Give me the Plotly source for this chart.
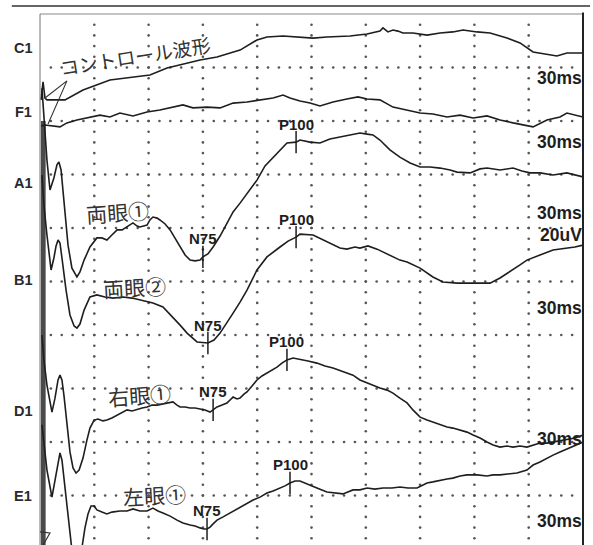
import numpy as np
import plotly.graph_objects as go

# ---------------- data (time in ms, amplitude in uV, 20 uV / division) ----------------
channels = ["C1", "F1", "A1", "B1", "D1", "E1"]

c1_t = [0.5, 1.4, 2.3, 3.2, 11.5, 19.8, 32.2, 42.8, 50.6, 58.5, 67.7, 73.7, 81.5, 92.1, 99.9, 104.5, 111.9,
        119.7, 125.7, 132.1, 142.7, 150.6, 156.5, 157.9, 160.2, 162.5, 164.8, 167.1, 171.7, 178.2, 184.2,
        190.1, 194.8, 201.2, 207.2, 215.0, 221.0, 227.0, 233.4, 238.0, 242.6, 245.4, 250.0]
c1_uv = [-32.1, -25.4, -31.4, -32.1, -32.1, -28.4, -24.7, -23.6, -22.8, -20.2, -18.3, -17.2, -16.1, -13.5,
         -9.7, -8.6, -8.2, -8.6, -9.0, -8.6, -8.2, -7.5, -6.4, -5.2, -6.7, -6.0, -6.4, -7.1, -7.1, -7.9,
         -7.1, -6.7, -6.0, -6.7, -7.1, -9.0, -10.8, -14.2, -15.0, -15.7, -14.6, -14.6, -14.6]

f1_t = [0.5, 2.3, 9.2, 12.4, 17.0, 23.0, 27.6, 32.2, 36.8, 42.8, 49.3, 55.2, 61.2, 65.8, 70.4, 76.9, 82.9,
        88.9, 95.3, 101.3, 107.3, 111.9, 115.1, 119.7, 124.3, 128.9, 134.9, 141.3, 146.4, 150.6, 156.5,
        162.5, 168.9, 175.0, 180.9, 187.4, 193.4, 199.4, 205.8, 211.8, 217.8, 224.2, 227.0, 233.4, 239.4,
        242.6, 247.2, 250.0]
f1_uv = [-41.9, -41.5, -42.2, -40.7, -39.6, -38.5, -37.8, -38.5, -37.0, -38.1, -36.6, -35.9, -34.8, -34.0,
         -35.1, -34.8, -35.1, -33.3, -32.9, -32.1, -31.4, -30.3, -31.4, -32.5, -33.3, -34.4, -32.9, -31.8,
         -31.0, -31.8, -32.1, -34.8, -35.9, -37.0, -37.4, -38.5, -37.8, -38.9, -38.1, -39.6, -40.7, -41.9,
         -42.2, -39.6, -38.5, -37.0, -38.1, -38.5]

a1_t = [0.9, 1.8, 3.2, 4.6, 6.4, 7.8, 8.7, 9.7, 10.6, 11.5, 12.9, 14.7, 17.0, 18.4, 20.3, 23.0, 26.2, 28.5,
        30.8, 33.1, 35.5, 37.8, 40.1, 42.8, 44.7, 46.0, 49.3, 50.6, 52.0, 53.9, 55.2, 57.6, 59.9, 62.2,
        64.5, 66.8, 69.1, 71.4, 73.7, 75.0, 77.3, 79.7, 82.9, 86.1, 88.9, 92.1, 95.8, 99.9, 103.6, 107.3,
        110.5, 113.7, 117.9, 119.7, 124.3, 128.9, 133.5, 138.1, 142.7, 147.3, 150.6, 153.3, 156.5, 161.1,
        165.7, 170.4, 175.0, 179.6, 184.2, 188.8, 192.0, 198.0, 202.6, 205.8, 211.8, 217.8, 221.9, 225.6,
        230.2, 236.2, 242.6, 250.0]
a1_uv = [-27.7, -39.6, -54.6, -65.8, -61.3, -56.4, -55.3, -58.3, -66.5, -75.1, -86.4, -95.0, -98.3, -96.4,
         -92.0, -87.1, -83.7, -83.7, -84.5, -82.6, -80.7, -80.7, -79.6, -78.1, -79.3, -79.6, -78.9, -77.0,
         -75.9, -76.3, -77.0, -78.5, -80.7, -83.7, -87.1, -90.1, -92.0, -92.3, -92.0, -90.8, -89.7, -87.1,
         -83.0, -78.1, -74.0, -70.7, -66.5, -62.1, -56.8, -53.5, -50.8, -48.2, -47.9, -47.1, -47.9, -48.2,
         -46.7, -46.0, -45.2, -44.5, -44.9, -45.2, -47.1, -50.8, -53.5, -55.7, -57.2, -57.2, -57.6, -58.3,
         -59.1, -59.4, -57.9, -57.6, -58.3, -57.6, -58.7, -59.4, -59.4, -60.2, -59.4, -60.9]

b1_t = [0.9, 1.8, 3.2, 5.1, 6.4, 7.4, 8.3, 9.2, 10.1, 11.0, 12.0, 13.8, 15.7, 17.0, 18.4, 20.3, 23.0, 26.2,
        29.9, 33.6, 38.2, 42.4, 46.0, 52.0, 56.6, 61.2, 64.5, 67.7, 72.3, 77.3, 80.1, 82.9, 86.1, 88.9,
        92.1, 95.3, 99.9, 104.5, 110.5, 114.2, 117.9, 119.7, 125.7, 130.3, 134.9, 138.1, 141.3, 145.0,
        147.3, 151.0, 155.2, 161.1, 165.7, 169.0, 175.0, 180.9, 185.5, 192.0, 199.4, 207.2, 211.8, 217.8,
        221.0, 224.2, 227.0, 230.2, 236.2, 242.6, 246.3, 250.0]
b1_uv = [-60.2, -71.4, -82.6, -95.7, -91.2, -86.7, -84.5, -85.6, -91.2, -97.6, -103.2, -112.5, -116.6,
         -117.4, -115.9, -110.7, -105.8, -105.0, -105.8, -106.2, -105.8, -106.2, -106.9, -108.0, -109.5,
         -113.3, -116.3, -119.3, -122.6, -123.0, -121.9, -119.3, -115.5, -111.8, -107.7, -103.2, -95.7,
         -90.8, -87.1, -84.9, -83.4, -82.3, -82.6, -84.5, -86.4, -87.5, -87.9, -87.1, -87.5, -86.7, -87.9,
         -90.1, -92.0, -92.7, -95.0, -98.3, -100.2, -100.6, -100.6, -100.6, -98.7, -95.7, -93.8, -92.0,
         -91.2, -90.1, -88.2, -87.5, -87.1, -86.4]

d1_t = [0.9, 1.8, 3.2, 5.5, 6.9, 8.3, 9.2, 10.1, 11.0, 12.4, 13.8, 15.2, 16.6, 18.0, 19.8, 21.6, 23.0, 24.9,
        26.7, 29.0, 30.8, 33.1, 35.5, 37.8, 40.1, 42.4, 44.7, 47.0, 49.3, 51.6, 53.9, 56.2, 58.5, 61.2,
        63.1, 64.5, 66.8, 69.1, 71.4, 73.7, 76.0, 78.3, 79.7, 81.5, 83.8, 86.1, 87.5, 88.9, 90.7, 92.1,
        93.9, 95.3, 97.6, 99.9, 102.2, 104.5, 106.8, 109.1, 111.4, 113.7, 116.5, 119.7, 123.4, 127.5,
        131.2, 134.9, 139.5, 144.1, 147.3, 150.6, 153.3, 156.5, 159.8, 162.5, 165.7, 169.0, 171.7, 175.0,
        178.2, 180.9, 184.2, 187.4, 190.1, 193.4, 196.6, 199.4, 202.6, 205.8, 208.6, 211.8, 215.0, 217.8,
        221.0, 224.2, 227.0, 230.2, 233.4, 236.2, 239.4, 242.6, 246.3, 250.0]
d1_uv = [-120.0, -129.3, -138.7, -148.8, -143.6, -136.8, -135.0, -136.8, -142.4, -153.6, -163.7, -169.7,
         -171.6, -170.5, -166.0, -159.3, -154.8, -151.8, -151.4, -152.1, -151.8, -151.0, -149.9, -148.8,
         -148.0, -148.4, -147.7, -147.3, -146.9, -146.2, -146.2, -145.8, -145.4, -145.0, -146.2, -146.9,
         -146.9, -147.3, -147.3, -147.7, -148.0, -148.8, -148.0, -146.9, -146.2, -145.4, -144.3, -143.2,
         -143.9, -143.6, -142.1, -141.3, -139.1, -136.8, -135.3, -134.2, -133.1, -132.0, -130.5, -129.3,
         -128.6, -129.0, -129.7, -130.5, -131.6, -132.3, -133.8, -135.0, -136.8, -137.9, -138.7, -139.8,
         -140.6, -141.7, -143.6, -145.4, -148.0, -150.7, -151.8, -152.5, -153.6, -154.4, -154.8, -155.5,
         -156.3, -157.4, -158.5, -160.0, -161.1, -161.9, -161.5, -161.9, -161.5, -161.9, -161.1, -160.4,
         -160.4, -160.0, -159.6, -159.3, -158.5, -157.4]

e1_t = [0.9, 1.8, 3.2, 5.5, 6.9, 8.3, 9.2, 10.1, 11.0, 12.4, 13.8, 15.2, 16.6, 18.0, 19.3, 20.7, 22.1, 23.5,
        24.9, 26.2, 28.5, 30.8, 33.1, 36.8, 40.1, 42.8, 46.0, 49.3, 52.0, 54.3, 56.6, 59.9, 63.1, 65.8,
        69.1, 71.4, 73.7, 75.5, 76.9, 78.3, 79.7, 81.5, 84.3, 87.5, 89.8, 92.1, 95.3, 98.1, 101.3, 104.5,
        107.3, 110.5, 112.8, 115.1, 117.4, 119.7, 123.4, 127.5, 132.1, 135.8, 139.5, 144.1, 147.3, 150.6,
        154.2, 157.9, 162.1, 165.7, 169.4, 173.6, 178.2, 180.9, 184.2, 187.4, 190.1, 193.4, 196.6, 201.2,
        205.8, 208.6, 211.8, 215.5, 219.6, 224.2, 227.0, 230.2, 233.4, 236.2, 239.4, 242.6, 247.2, 250.0]
e1_uv = [-153.6, -161.1, -170.5, -180.6, -174.2, -166.7, -164.1, -166.7, -173.5, -183.5, -194.8, -204.1,
         -208.6, -207.1, -199.6, -192.1, -186.9, -183.9, -183.9, -185.4, -186.2, -186.9, -186.2, -185.8,
         -185.8, -185.0, -185.8, -185.8, -184.7, -185.8, -186.5, -187.7, -189.2, -190.3, -191.0, -191.4,
         -192.1, -192.5, -192.5, -191.8, -190.6, -189.2, -188.0, -186.5, -185.4, -184.3, -182.8, -181.7,
         -180.6, -179.1, -178.3, -177.2, -176.4, -175.3, -174.6, -174.6, -175.7, -177.2, -178.7, -179.1,
         -179.4, -177.9, -177.9, -177.2, -177.6, -177.2, -177.2, -176.8, -177.2, -177.2, -175.3, -174.9,
         -174.2, -173.8, -173.5, -172.7, -172.3, -172.3, -172.7, -172.3, -172.3, -172.0, -171.6, -170.5,
         -168.6, -167.5, -166.0, -164.9, -163.7, -162.6, -161.1, -160.0]

peak_names = ["N75", "P100", "N75", "P100", "N75", "P100", "N75", "P100"]
peak_t = [75.0, 117.9, 77.3, 117.9, 79.7, 113.7, 76.9, 115.1]
peak_uv = [-90.8, -47.9, -123.0, -83.4, -148.0, -129.3, -192.5, -175.3]

scale_labels = ["30ms", "30ms", "30ms", "20uV", "30ms", "30ms", "30ms"]
notes = ["コントロール波形", "両眼①", "両眼②", "右眼①", "左眼①"]

# ---------------- figure ----------------
INK = "#1e1e1e"
DOT = "#555555"
fig = go.Figure()

# dotted grid (25 ms x 20 uV divisions, 5 dots per division)
grid_t = np.arange(25, 250, 25)
grid_uv = np.arange(-20, -190, -20)
dot_x, dot_y = [], []
for gt in grid_t:
    for v in np.arange(-4, -200, -4):
        dot_x.append(gt); dot_y.append(v)
for gv in grid_uv:
    for tt in np.arange(5, 250, 5):
        dot_x.append(tt); dot_y.append(gv)
fig.add_trace(go.Scatter(x=dot_x, y=dot_y, mode="markers",
                         marker=dict(size=2.6, color=DOT, line=dict(width=0)),
                         hoverinfo="skip", showlegend=False))

series = [(c1_t, c1_uv), (f1_t, f1_uv), (a1_t, a1_uv), (b1_t, b1_uv), (d1_t, d1_uv), (e1_t, e1_uv)]
for name, (tt, vv) in zip(channels, series):
    fig.add_trace(go.Scatter(x=tt, y=vv, mode="lines", name=name,
                             line=dict(color=INK, width=1.6),
                             hoverinfo="skip", showlegend=False))

# peak tick marks
fig.add_trace(go.Scatter(x=peak_t, y=peak_uv, mode="markers",
                         marker=dict(symbol="line-ns", size=16, line=dict(width=1.5, color=INK)),
                         hoverinfo="skip", showlegend=False))

annotations = []
for name, tt, vv in zip(peak_names, peak_t, peak_uv):
    annotations.append(dict(x=tt, y=vv, xref="x", yref="y", text="<b>%s</b>" % name, showarrow=False,
                            yshift=18, font=dict(family="Liberation Sans, Arial", size=15, color=INK)))

# channel names in left margin (paper coordinates, the margin lies outside the axis range)
chan_y = [-12.7, -36.6, -63.2, -99.4, -148.4, -180.2]
for name, yy in zip(channels, chan_y):
    annotations.append(dict(x=-0.031, y=yy, xref="paper", yref="y", text="<b>%s</b>" % name,
                            showarrow=False, xanchor="center",
                            font=dict(family="Liberation Sans, Arial", size=14.5, color="#2a2a2a")))

# scale labels at right
scale_y = [-23.9, -47.9, -74.4, -82.6, -109.9, -158.9, -189.5]
for txt, yy in zip(scale_labels, scale_y):
    annotations.append(dict(x=250, y=yy, xref="x", yref="y", text="<b>%s</b>" % txt, showarrow=False,
                            xanchor="right", xshift=1,
                            font=dict(family="Liberation Sans, Arial", size=17.5, color=INK)))

# handwritten notes
note_pos = [(43.7, -15.5, -9), (35.9, -74.0, -4), (43.7, -102.1, -3), (46.0, -142.4, -4), (52.9, -179.8, -3)]
note_size = [19, 21, 21, 21, 21]
for txt, (tx, ty, ang), sz in zip(notes, note_pos, note_size):
    annotations.append(dict(x=tx, y=ty, xref="x", yref="y", text=txt, showarrow=False, textangle=ang,
                            font=dict(family="Noto Sans CJK JP", size=sz, color="#333")))

shapes = [
    # top rule above the chart
    dict(type="line", xref="paper", yref="paper", x0=-0.052, x1=1.013, y0=1.0151, y1=1.0151,
         line=dict(color="#333", width=1.6)),
    # frame
    dict(type="line", xref="paper", yref="paper", x0=0, x1=1, y0=1, y1=1, line=dict(color="#888", width=1)),
    dict(type="line", xref="paper", yref="paper", x0=0, x1=0, y0=0, y1=1, line=dict(color="#777", width=1)),
    dict(type="line", xref="paper", yref="paper", x0=1, x1=1, y0=0, y1=1.003, line=dict(color="#222", width=2)),
    # stimulus artefact band at the left edge
    dict(type="rect", xref="x", yref="y", x0=0.4, x1=2.6, y0=-40, y1=-198.5,
         fillcolor="#4a4a4a", line=dict(width=0), layer="below"),
    # hand-drawn pointer lines from the note to the control traces
    dict(type="path", xref="x", yref="y", path="M 2.3 -31.4 L 12.4 -25.0 L 3.7 -41.1",
         line=dict(color="#333", width=1.1)),
    # trigger mark at the bottom-left
    dict(type="path", xref="x", yref="y", path="M 0.0 -193.6 L 4.6 -194.0 L 1.4 -198.5",
         line=dict(color="#333", width=1.2)),
]

fig.update_layout(
    width=593, height=545,
    margin=dict(l=40, r=10, t=14, b=0),
    paper_bgcolor="white", plot_bgcolor="white",
    xaxis=dict(range=[0, 250], visible=False, showgrid=False, zeroline=False),
    yaxis=dict(range=[-198.5, 0], visible=False, showgrid=False, zeroline=False),
    annotations=annotations, shapes=shapes,
    showlegend=False,
)

fig.write_html("out.html")
